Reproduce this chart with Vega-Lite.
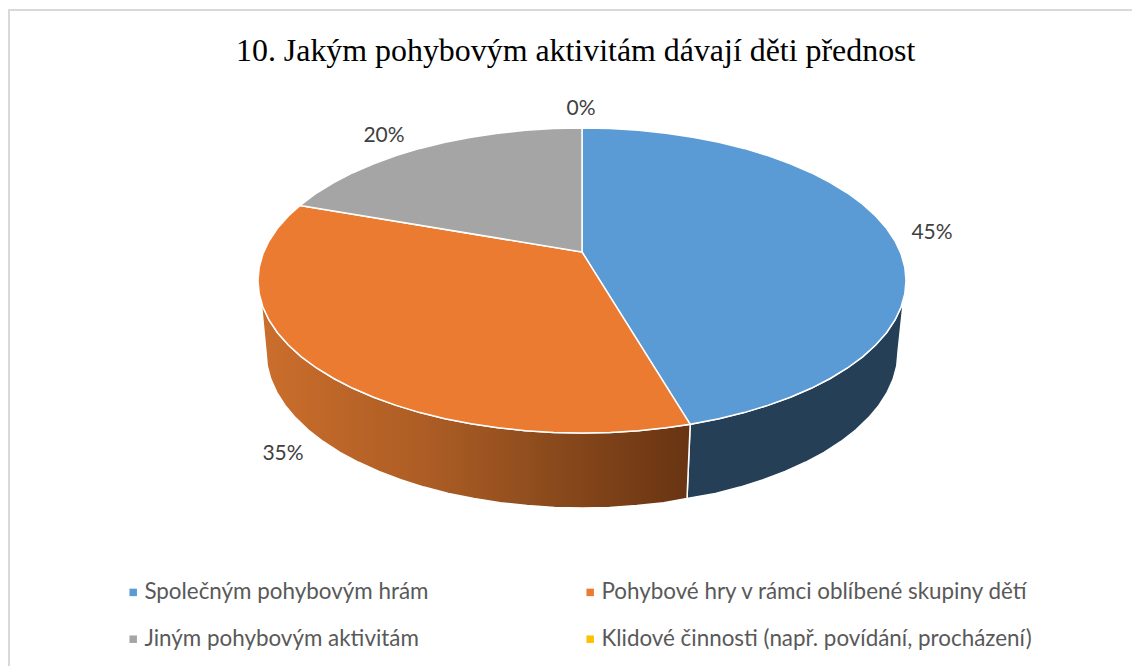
{"$schema":"https://vega.github.io/schema/vega-lite/v6.json","width":1132,"height":666,"padding":0,"autosize":{"type":"none"},"background":"white","view":{"stroke":null},
"title":{"text":"10. Jakým pohybovým aktivitám dávají děti přednost","font":"Liberation Serif","fontSize":31.9,"fontWeight":"normal","color":"#000000","anchor":"start","offset":-68,"dx":236},
"datasets":{
"frame":[{"i":0,"x":9,"y":666},{"i":1,"x":9,"y":10},{"i":2,"x":1132,"y":10}],
"labels":[{"slice":"Společným pohybovým hrám","label":"45%","x":932,"y":233},{"slice":"Pohybové hry v rámci oblíbené skupiny dětí","label":"35%","x":283,"y":454},{"slice":"Jiným pohybovým aktivitám","label":"20%","x":384,"y":136},{"slice":"Klidové činnosti (např. povídání, procházení)","label":"0%","x":581,"y":109}],
"blueWall":[{"i":0,"x":903.5,"y":300},{"i":1,"x":901.1,"y":307},{"i":2,"x":895,"y":320},{"i":3,"x":886.5,"y":332.7},{"i":4,"x":875.6,"y":345},{"i":5,"x":862.6,"y":356.8},{"i":6,"x":847.4,"y":368},{"i":7,"x":830.2,"y":378.5},{"i":8,"x":811.1,"y":388.3},{"i":9,"x":790.3,"y":397.3},{"i":10,"x":767.8,"y":405.4},{"i":11,"x":744,"y":412.6},{"i":12,"x":718.9,"y":418.7},{"i":13,"x":690.2,"y":424.3},{"i":14,"x":687,"y":498.5},{"i":15,"x":715.5,"y":493.4},{"i":16,"x":740,"y":487.1},{"i":17,"x":763.3,"y":479.8},{"i":18,"x":785.1,"y":471.5},{"i":19,"x":805.4,"y":462.3},{"i":20,"x":824.1,"y":452.3},{"i":21,"x":840.9,"y":441.5},{"i":22,"x":855.7,"y":430},{"i":23,"x":868.4,"y":417.9},{"i":24,"x":878.9,"y":405.4},{"i":25,"x":887.2,"y":392.4},{"i":26,"x":893.2,"y":379.1},{"i":27,"x":896.8,"y":365.6},{"i":28,"x":898,"y":352},{"i":29,"x":903.5,"y":300}],
"orangeWall":[{"i":0,"x":690.2,"y":424.3},{"i":1,"x":665.9,"y":427.8},{"i":2,"x":638.3,"y":430.7},{"i":3,"x":610.2,"y":432.4},{"i":4,"x":582,"y":433},{"i":5,"x":553.8,"y":432.4},{"i":6,"x":525.7,"y":430.7},{"i":7,"x":498.1,"y":427.8},{"i":8,"x":471.2,"y":423.8},{"i":9,"x":445.1,"y":418.7},{"i":10,"x":420,"y":412.6},{"i":11,"x":396.2,"y":405.4},{"i":12,"x":373.7,"y":397.3},{"i":13,"x":352.9,"y":388.3},{"i":14,"x":333.8,"y":378.5},{"i":15,"x":316.6,"y":368},{"i":16,"x":301.4,"y":356.8},{"i":17,"x":288.4,"y":345},{"i":18,"x":277.5,"y":332.7},{"i":19,"x":269,"y":320},{"i":20,"x":262.9,"y":307},{"i":21,"x":261,"y":300},{"i":22,"x":266,"y":352},{"i":23,"x":267.2,"y":365.6},{"i":24,"x":270.8,"y":379.1},{"i":25,"x":276.8,"y":392.4},{"i":26,"x":285.1,"y":405.4},{"i":27,"x":295.6,"y":417.9},{"i":28,"x":308.3,"y":430},{"i":29,"x":323.1,"y":441.5},{"i":30,"x":339.9,"y":452.3},{"i":31,"x":358.6,"y":462.3},{"i":32,"x":378.9,"y":471.5},{"i":33,"x":400.7,"y":479.8},{"i":34,"x":424,"y":487.1},{"i":35,"x":448.5,"y":493.4},{"i":36,"x":473.9,"y":498.6},{"i":37,"x":500.2,"y":502.7},{"i":38,"x":527.1,"y":505.6},{"i":39,"x":554.5,"y":507.4},{"i":40,"x":582,"y":508},{"i":41,"x":609.5,"y":507.4},{"i":42,"x":636.9,"y":505.6},{"i":43,"x":663.8,"y":502.7},{"i":44,"x":687,"y":498.5},{"i":45,"x":690.2,"y":424.3}],
"top":[
{"slice":"Společným pohybovým hrám","i":0,"x":582,"y":252},{"slice":"Společným pohybovým hrám","i":1,"x":582,"y":128},{"slice":"Společným pohybovým hrám","i":2,"x":610.2,"y":128.6},{"slice":"Společným pohybovým hrám","i":3,"x":638.3,"y":130.3},{"slice":"Společným pohybovým hrám","i":4,"x":665.9,"y":133.2},{"slice":"Společným pohybovým hrám","i":5,"x":692.8,"y":137.2},{"slice":"Společným pohybovým hrám","i":6,"x":718.9,"y":142.3},{"slice":"Společným pohybovým hrám","i":7,"x":744,"y":148.4},{"slice":"Společným pohybovým hrám","i":8,"x":767.8,"y":155.6},{"slice":"Společným pohybovým hrám","i":9,"x":790.3,"y":163.7},{"slice":"Společným pohybovým hrám","i":10,"x":811.1,"y":172.7},{"slice":"Společným pohybovým hrám","i":11,"x":830.2,"y":182.5},{"slice":"Společným pohybovým hrám","i":12,"x":847.4,"y":193},{"slice":"Společným pohybovým hrám","i":13,"x":862.6,"y":204.2},{"slice":"Společným pohybovým hrám","i":14,"x":875.6,"y":216},{"slice":"Společným pohybovým hrám","i":15,"x":886.5,"y":228.3},{"slice":"Společným pohybovým hrám","i":16,"x":895,"y":241},{"slice":"Společným pohybovým hrám","i":17,"x":901.1,"y":254},{"slice":"Společným pohybovým hrám","i":18,"x":904.8,"y":267.2},{"slice":"Společným pohybovým hrám","i":19,"x":906,"y":280.5},{"slice":"Společným pohybovým hrám","i":20,"x":904.8,"y":293.8},{"slice":"Společným pohybovým hrám","i":21,"x":901.1,"y":307},{"slice":"Společným pohybovým hrám","i":22,"x":895,"y":320},{"slice":"Společným pohybovým hrám","i":23,"x":886.5,"y":332.7},{"slice":"Společným pohybovým hrám","i":24,"x":875.6,"y":345},{"slice":"Společným pohybovým hrám","i":25,"x":862.6,"y":356.8},{"slice":"Společným pohybovým hrám","i":26,"x":847.4,"y":368},{"slice":"Společným pohybovým hrám","i":27,"x":830.2,"y":378.5},{"slice":"Společným pohybovým hrám","i":28,"x":811.1,"y":388.3},{"slice":"Společným pohybovým hrám","i":29,"x":790.3,"y":397.3},{"slice":"Společným pohybovým hrám","i":30,"x":767.8,"y":405.4},{"slice":"Společným pohybovým hrám","i":31,"x":744,"y":412.6},{"slice":"Společným pohybovým hrám","i":32,"x":718.9,"y":418.7},{"slice":"Společným pohybovým hrám","i":33,"x":690.2,"y":424.3},{"slice":"Společným pohybovým hrám","i":34,"x":582,"y":252},
{"slice":"Pohybové hry v rámci oblíbené skupiny dětí","i":0,"x":582,"y":252},{"slice":"Pohybové hry v rámci oblíbené skupiny dětí","i":1,"x":690.2,"y":424.3},{"slice":"Pohybové hry v rámci oblíbené skupiny dětí","i":2,"x":665.9,"y":427.8},{"slice":"Pohybové hry v rámci oblíbené skupiny dětí","i":3,"x":638.3,"y":430.7},{"slice":"Pohybové hry v rámci oblíbené skupiny dětí","i":4,"x":610.2,"y":432.4},{"slice":"Pohybové hry v rámci oblíbené skupiny dětí","i":5,"x":582,"y":433},{"slice":"Pohybové hry v rámci oblíbené skupiny dětí","i":6,"x":553.8,"y":432.4},{"slice":"Pohybové hry v rámci oblíbené skupiny dětí","i":7,"x":525.7,"y":430.7},{"slice":"Pohybové hry v rámci oblíbené skupiny dětí","i":8,"x":498.1,"y":427.8},{"slice":"Pohybové hry v rámci oblíbené skupiny dětí","i":9,"x":471.2,"y":423.8},{"slice":"Pohybové hry v rámci oblíbené skupiny dětí","i":10,"x":445.1,"y":418.7},{"slice":"Pohybové hry v rámci oblíbené skupiny dětí","i":11,"x":420,"y":412.6},{"slice":"Pohybové hry v rámci oblíbené skupiny dětí","i":12,"x":396.2,"y":405.4},{"slice":"Pohybové hry v rámci oblíbené skupiny dětí","i":13,"x":373.7,"y":397.3},{"slice":"Pohybové hry v rámci oblíbené skupiny dětí","i":14,"x":352.9,"y":388.3},{"slice":"Pohybové hry v rámci oblíbené skupiny dětí","i":15,"x":333.8,"y":378.5},{"slice":"Pohybové hry v rámci oblíbené skupiny dětí","i":16,"x":316.6,"y":368},{"slice":"Pohybové hry v rámci oblíbené skupiny dětí","i":17,"x":301.4,"y":356.8},{"slice":"Pohybové hry v rámci oblíbené skupiny dětí","i":18,"x":288.4,"y":345},{"slice":"Pohybové hry v rámci oblíbené skupiny dětí","i":19,"x":277.5,"y":332.7},{"slice":"Pohybové hry v rámci oblíbené skupiny dětí","i":20,"x":269,"y":320},{"slice":"Pohybové hry v rámci oblíbené skupiny dětí","i":21,"x":262.9,"y":307},{"slice":"Pohybové hry v rámci oblíbené skupiny dětí","i":22,"x":259.2,"y":293.8},{"slice":"Pohybové hry v rámci oblíbené skupiny dětí","i":23,"x":258,"y":280.5},{"slice":"Pohybové hry v rámci oblíbené skupiny dětí","i":24,"x":259.2,"y":267.2},{"slice":"Pohybové hry v rámci oblíbené skupiny dětí","i":25,"x":262.9,"y":254},{"slice":"Pohybové hry v rámci oblíbené skupiny dětí","i":26,"x":269,"y":241},{"slice":"Pohybové hry v rámci oblíbené skupiny dětí","i":27,"x":277.5,"y":228.3},{"slice":"Pohybové hry v rámci oblíbené skupiny dětí","i":28,"x":288.4,"y":216},{"slice":"Pohybové hry v rámci oblíbené skupiny dětí","i":29,"x":300.1,"y":205.5},{"slice":"Pohybové hry v rámci oblíbené skupiny dětí","i":30,"x":582,"y":252},
{"slice":"Jiným pohybovým aktivitám","i":0,"x":582,"y":252},{"slice":"Jiným pohybovým aktivitám","i":1,"x":300.1,"y":205.5},{"slice":"Jiným pohybovým aktivitám","i":2,"x":316.6,"y":193},{"slice":"Jiným pohybovým aktivitám","i":3,"x":333.8,"y":182.5},{"slice":"Jiným pohybovým aktivitám","i":4,"x":352.9,"y":172.7},{"slice":"Jiným pohybovým aktivitám","i":5,"x":373.7,"y":163.7},{"slice":"Jiným pohybovým aktivitám","i":6,"x":396.2,"y":155.6},{"slice":"Jiným pohybovým aktivitám","i":7,"x":420,"y":148.4},{"slice":"Jiným pohybovým aktivitám","i":8,"x":445.1,"y":142.3},{"slice":"Jiným pohybovým aktivitám","i":9,"x":471.2,"y":137.2},{"slice":"Jiným pohybovým aktivitám","i":10,"x":498.1,"y":133.2},{"slice":"Jiným pohybovým aktivitám","i":11,"x":525.7,"y":130.3},{"slice":"Jiným pohybovým aktivitám","i":12,"x":553.8,"y":128.6},{"slice":"Jiným pohybovým aktivitám","i":13,"x":582,"y":128},{"slice":"Jiným pohybovým aktivitám","i":14,"x":582,"y":252}
]},
"layer":[
{"data":{"name":"frame"},"mark":{"type":"line","stroke":"#d9d9d9","strokeWidth":2,"clip":false},"encoding":{"x":{"field":"x","type":"quantitative","scale":{"domain":[0,1132],"nice":false,"zero":false},"axis":null},"y":{"field":"y","type":"quantitative","scale":{"domain":[666,0],"nice":false,"zero":false},"axis":null},"order":{"field":"i"}}},
{"data":{"name":"blueWall"},"mark":{"type":"line","fill":"#243f56","stroke":"#ffffff","strokeWidth":1.5},"encoding":{"x":{"field":"x","type":"quantitative","axis":null},"y":{"field":"y","type":"quantitative","axis":null},"order":{"field":"i"}}},
{"data":{"name":"orangeWall"},"mark":{"type":"line","stroke":"#ffffff","strokeWidth":1.5,"fill":{"x1":0,"y1":0,"x2":1,"y2":0,"gradient":"linear","stops":[{"offset":0,"color":"#cb6e2c"},{"offset":0.4,"color":"#ab5c24"},{"offset":0.62,"color":"#914e1e"},{"offset":1,"color":"#683412"}]}},"encoding":{"x":{"field":"x","type":"quantitative","axis":null},"y":{"field":"y","type":"quantitative","axis":null},"order":{"field":"i"}}},
{"data":{"name":"top"},"mark":{"type":"line","stroke":"#ffffff","strokeWidth":1.5},"encoding":{"x":{"field":"x","type":"quantitative","axis":null},"y":{"field":"y","type":"quantitative","axis":null},"order":{"field":"i"},"detail":{"field":"slice"},"fill":{"field":"slice","type":"nominal","scale":{"domain":["Společným pohybovým hrám","Pohybové hry v rámci oblíbené skupiny dětí","Jiným pohybovým aktivitám","Klidové činnosti (např. povídání, procházení)"],"range":["#5b9bd5","#ea7b31","#a5a5a5","#ffc000"]},"legend":{"title":null,"orient":"none","direction":"horizontal","legendX":122,"legendY":581,"columns":2,"symbolType":"square","symbolSize":56,"symbolStrokeWidth":0,"symbolOpacity":1,"labelFont":"Lato","labelFontSize":22.4,"labelColor":"#595959","labelOffset":0,"labelLimit":500,"columnPadding":150,"rowPadding":24}}}},
{"data":{"name":"labels"},"mark":{"type":"text","font":"Lato","fontSize":21,"color":"#404040","align":"center","baseline":"middle"},"encoding":{"x":{"field":"x","type":"quantitative","axis":null},"y":{"field":"y","type":"quantitative","axis":null},"text":{"field":"label"}}}
]}
